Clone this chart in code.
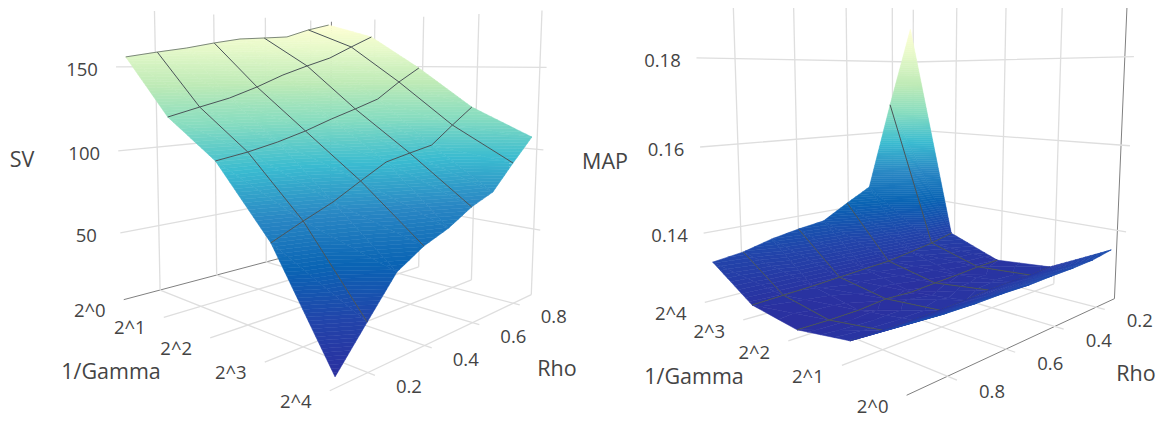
import numpy as np, altair as alt
alt.data_transformers.disable_max_rows()

RHO = [.1, .2, .3, .4, .5, .6, .7, .8, .9]
GAMMA = ["2^0", "2^1", "2^2", "2^3", "2^4"]
# rows: 1/Gamma index, columns: Rho
SV = [[155.9, 159.0, 161.8, 165.4, 168.5, 169.7, 171.0, 176.7, 181.1],
      [122.6, 127.2, 131.6, 137.7, 144.8, 150.5, 155.8, 163.6, 171.1],
      [102.2, 104.9, 108.6, 113.3, 119.0, 124.1, 129.5, 140.0, 149.1],
      [66.7, 73.9, 80.5, 89.0, 97.2, 100.3, 103.2, 114.0, 124.3],
      [13.3, 32.8, 52.0, 60.8, 66.4, 74.5, 79.9, 94.3, 108.0]]
MAP = [[.1358, .1350, .1348, .1348, .1347, .1349, .1349, .1351, .1357],
       [.1285, .1281, .1282, .1281, .1277, .1275, .1275, .1276, .1278],
       [.1271, .1269, .1265, .1262, .1258, .1261, .1255, .1254, .1255],
       [.1318, .1304, .1294, .1285, .1281, .1277, .1273, .1270, .1267],
       [.1893, .1678, .1451, .1416, .1379, .1370, .1358, .1340, .1331]]
SV_TICKS = [50, 100, 150]
MAP_TICKS = [.14, .16, .18]
RHO_TICKS = [.2, .4, .6, .8]
STOPS = ["#2b2f9f", "#2244aa", "#0a64b4", "#2a88c4", "#3bbcd0", "#86dcc0", "#bdeab6", "#e3f8c8", "#ffffd4"]

CAM_L = [0.029552, 0.38618, -0.0073481, 0.095275, -0.0043832, 0.024064, -0.17054, 0.32032, -0.071282, 0.3801, -0.025415, 1]
CAM_R = [0.014044, -0.51462, -0.033227, 1.111, 0.0050421, -0.024132, -0.18984, 0.73328, 0.063793, -0.32244, -0.036708, 1]
OFF = 8
GRID = "#dedede"; DARK = "#808080"; WIRE = "#4a5458"; TXT = "#444444"
FONT = "Open Sans"
W, H = 1150, 410

def rgb(h): return np.array([int(h[i:i+2], 16) for i in (1, 3, 5)], float)
STOP_RGB = [rgb(s) for s in STOPS]
def color(t):
    t = min(max(t, 0), 1) * (len(STOPS) - 1); i = min(int(t), len(STOPS) - 2); f = t - i
    c = STOP_RGB[i] * (1 - f) + STOP_RGB[i + 1] * f
    return "#%02x%02x%02x" % tuple(int(round(v)) for v in c)

def clip(poly, lo, hi):
    def cut(pts, keep, val):
        out = []
        for a, b in zip(pts, pts[1:] + pts[:1]):
            ka, kb = keep(a[2]), keep(b[2])
            if ka: out.append(a)
            if ka != kb:
                f = (val - a[2]) / (b[2] - a[2])
                out.append(tuple(a[k] + f * (b[k] - a[k]) for k in range(3)))
        return out
    p = cut(poly, lambda z: z >= lo, lo)
    if len(p) < 3: return []
    return cut(p, lambda z: z <= hi, hi)

def panel(Z, cam, zs, z0, ztop, ztick, far_g, wall_r, rt_g, rt_z, gt, front_row, mg, mr, bands=110):
    P = np.array(cam).reshape(3, 4)
    def pr(g, r, z):
        h = P @ np.array([g, r, z * zs, 1.0])
        return [h[0] / h[2] * 1000 - OFF, h[1] / h[2] * 1000 - OFF]
    def sp(i, r, z):  # surface vertex: sits slightly inside the box
        return pr(mg(i), mr(r), z)
    def line(pts, stroke, w):
        return {"type": "Feature", "geometry": {"type": "LineString", "coordinates": pts},
                "properties": {"fill": "none", "stroke": stroke, "w": w}}
    feats = []
    grid_g = [0, 1, 2, 3, 4]
    wall_g = far_g
    for g in grid_g:
        feats.append(line([pr(g, rt_g, z0), pr(g, wall_r, z0)], DARK if g == 0 else GRID, 1 if g == 0 else 1.3))
    for r in RHO_TICKS:
        feats.append(line([pr(wall_g, r, z0), pr(gt, r, z0)], GRID, 1.3))
        feats.append(line([pr(wall_g, r, z0), pr(wall_g, r, ztop)], GRID, 1.3))
    for g in grid_g:
        feats.append(line([pr(g, wall_r, z0), pr(g, wall_r, ztop)], DARK if g == 0 else GRID, 1 if g == 0 else 1.3))
    for z in ztick:
        feats.append(line([pr(wall_g, rt_z, z), pr(wall_g, wall_r, z), pr(gt, wall_r, z)], GRID, 1.3))
    zmin, zmax = np.min(Z), np.max(Z)
    edges = np.linspace(zmin, zmax, bands + 1)
    def cell_polys(i, j):
        out = []
        a = (i, RHO[j], Z[i][j]); b = (i + 1, RHO[j], Z[i + 1][j])
        c = (i + 1, RHO[j + 1], Z[i + 1][j + 1]); d = (i, RHO[j + 1], Z[i][j + 1])
        for tri in ([a, b, c], [a, c, d]):
            lo, hi = min(v[2] for v in tri), max(v[2] for v in tri)
            for k in range(bands):
                if edges[k + 1] < lo or edges[k] > hi: continue
                poly = clip(tri, edges[k], edges[k + 1])
                if len(poly) < 3: continue
                ring = [sp(*v) for v in poly]; ring.append(ring[0])
                col = color(((edges[k] + edges[k + 1]) / 2 - zmin) / (zmax - zmin))
                out.append({"type": "Feature", "geometry": {"type": "Polygon", "coordinates": [ring]},
                            "properties": {"fill": col, "stroke": col, "w": .5}})
        return out
    cells = [(i, j) for i in range(4) for j in range(8)]
    cells.sort(key=lambda c: (abs(c[0] + .5 - far_g) / 4 + abs(RHO[c[1]] + .05 - wall_r) / .8))
    back = [c for c in cells if front_row is None or c[0] != front_row]
    front = [c for c in cells if front_row is not None and c[0] == front_row]
    for c in back: feats += cell_polys(*c)
    for i in range(1, 4):
        feats.append(line([sp(i, RHO[j], Z[i][j]) for j in range(9)], WIRE, 1))
    for r in RHO_TICKS:
        j = RHO.index(r)
        rows = [i for i in range(5) if front_row is None or i >= front_row + 1]
        feats.append(line([sp(i, r, Z[i][j]) for i in rows], WIRE, 1))
    for c in front: feats += cell_polys(*c)
    if far_g == 0:
        feats.append(line([sp(0, RHO[j], Z[0][j]) for j in range(9)], "#6f7a70", .9))
    return feats, pr

fl, pl = panel(SV, CAM_L, 1 / 100, 8, 184, SV_TICKS, 0, .9, .085, .08, 4.1, None,
               lambda g: g + .08 * (1 - g / 4), lambda r: r - .03 * (r - .1) / .8)
fr, prr = panel(MAP, CAM_R, 20, .1235, .195, MAP_TICKS, 4, .1, .92, .915, -.13, 0,
                lambda g: g - .08 * g / 4, lambda r: r + .03 * (.9 - r) / .8)
features = fl + fr

texts = []
def label(s, xy, dx, dy, size=18.5):
    texts.append({"s": s, "px": xy[0] + dx, "py": min(xy[1] + dy, H - 8), "size": size})
for z in SV_TICKS: label(str(z), pl(0, .08, z), -34, 3)
for k, g in enumerate(GAMMA): label(g, pl(k, .085, 8), -34, 11)
for r in RHO_TICKS: label(f"{r:.1f}", pl(4.1, r, 8), 34, 12)
for z in MAP_TICKS: label(f"{z:.2f}", prr(4, .915, z), -34, 3)
for k, g in enumerate(GAMMA): label(g, prr(k, .92, .1235), -34, 12)
for r in RHO_TICKS: label(f"{r:.1f}", prr(-.13, r, .1235), 35, 12)
for s, x, y in (("SV", 22, 161), ("1/Gamma", 111, 373), ("Rho", 557, 370),
                ("MAP", 605, 163), ("1/Gamma", 694, 378), ("Rho", 1136, 375)):
    texts.append({"s": s, "px": x - OFF, "py": y - OFF, "size": 21.5})

surface = alt.Chart(alt.Data(values=features)).mark_geoshape().encode(
    fill=alt.Fill("properties.fill:N", scale=None),
    stroke=alt.Stroke("properties.stroke:N", scale=None),
    strokeWidth=alt.StrokeWidth("properties.w:Q", scale=None),
).project(type="identity", scale=1, translate=[0, 0])
labels = alt.Chart(alt.Data(values=texts)).mark_text(font=FONT, color=TXT, baseline="middle", align="center").encode(
    x=alt.X("px:Q", scale=alt.Scale(domain=[0, W], range=[0, W]), axis=None),
    y=alt.Y("py:Q", scale=alt.Scale(domain=[0, H], range=[0, H]), axis=None),
    text="s:N", size=alt.Size("size:Q", scale=None),
)
chart = alt.layer(surface, labels).properties(
    width=W, height=H, padding=0, autosize=alt.AutoSizeParams(type="none")
).configure_view(stroke=None)
chart.save("out.html", embed_options={"renderer": "svg", "actions": False})
